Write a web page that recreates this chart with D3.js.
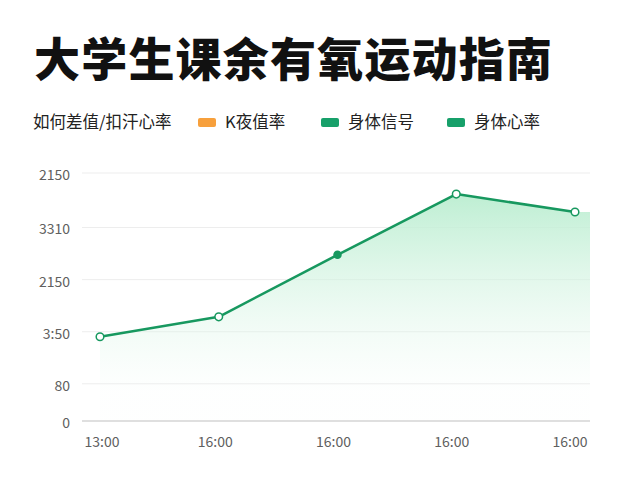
<!DOCTYPE html>
<html>
<head>
<meta charset="utf-8">
<script src="https://cdn.jsdelivr.net/npm/d3@7/dist/d3.min.js"></script>
<style>
  body { margin: 0; background: #fff; }
  text { font-family: "Noto Sans CJK SC", "Noto Sans", sans-serif; }
</style>
</head>
<body>
<svg id="chart" width="640" height="480"></svg>
<script>
// chart text
var title = "大学生课余有氧运动指南";
var legendTitle = "如何差值/扣汗心率";
var legendNames = ["K夜值率", "身体信号", "身体心率"];
var legendColors = ["#f7a03c", "#17a06a", "#17a06a"];

// x categories (as drawn)
var xLabels = ["13:00", "16:00", "16:00", "16:00", "16:00"];

// y ticks: positions on a 0-100 scale, labels as printed
var yTickValues = [0, 15, 36, 57, 78, 100];
var yTickLabels = ["0", "80", "3:50", "2150", "3310", "2150"];

// heart rate series, same 0-100 scale
var heartRate = [34, 42, 67, 91.5, 84.3];
var filledPoint = 2;   // the one marker that is drawn solid

var svg = d3.select("#chart");
var lineColor = "#17985f";

var x = d3.scaleLinear().domain([0, xLabels.length - 1]).range([100, 575]);
var y = d3.scaleLinear().domain([0, 100]).range([421, 173]);
var plotLeft = 82, plotRight = 590;

// title
svg.append("text")
  .attr("x", 34).attr("y", 76)
  .attr("font-size", 46).attr("font-weight", 900)
  .attr("letter-spacing", 1.2)
  .attr("fill", "#111")
  .text(title);

// legend
var lg = svg.append("g").attr("font-size", 16.5).attr("fill", "#222");
lg.append("text").attr("x", 33).attr("y", 128).text(legendTitle);
var legendX = [198, 321, 447];
legendNames.forEach(function(name, i) {
  lg.append("rect")
    .attr("x", legendX[i]).attr("y", 118)
    .attr("width", 18).attr("height", 9).attr("rx", 2)
    .attr("fill", legendColors[i]);
  lg.append("text")
    .attr("x", legendX[i] + 27).attr("y", 128)
    .text(name);
});

// gradient for the area
var defs = svg.append("defs");
var grad = defs.append("linearGradient")
  .attr("id", "areaFill")
  .attr("gradientUnits", "userSpaceOnUse")
  .attr("x1", 0).attr("y1", y(92)).attr("x2", 0).attr("y2", y(12));
grad.append("stop").attr("offset", 0).attr("stop-color", "#bdeed2").attr("stop-opacity", 1);
grad.append("stop").attr("offset", 1).attr("stop-color", "#e6f8ee").attr("stop-opacity", 0.05);

// grid lines
svg.append("g").selectAll("line")
  .data(yTickValues.slice(1))
  .enter().append("line")
  .attr("x1", plotLeft).attr("x2", plotRight)
  .attr("y1", function(d) { return y(d); })
  .attr("y2", function(d) { return y(d); })
  .attr("stroke", "#ededed").attr("stroke-width", 1);

// y labels
svg.append("g").selectAll("text")
  .data(yTickValues)
  .enter().append("text")
  .attr("x", 70)
  .attr("y", function(d) { return y(d) + 2; })
  .attr("dy", "0.35em")
  .attr("text-anchor", "end")
  .attr("font-size", 14).attr("fill", "#606060")
  .text(function(d, i) { return yTickLabels[i]; });

// area, carried flat to the right edge of the plot
var areaData = heartRate.map(function(v, i) { return [i, v]; });
areaData.push([x.invert(plotRight), heartRate[heartRate.length - 1]]);
var area = d3.area()
  .x(function(d) { return x(d[0]); })
  .y0(y(0))
  .y1(function(d) { return y(d[1]); });
svg.append("path").datum(areaData)
  .attr("d", area)
  .attr("fill", "url(#areaFill)");

// x axis line
svg.append("line")
  .attr("x1", plotLeft).attr("x2", plotRight)
  .attr("y1", y(0)).attr("y2", y(0))
  .attr("stroke", "#d4d4d4").attr("stroke-width", 1.5);

// x labels
svg.append("g").selectAll("text")
  .data(xLabels)
  .enter().append("text")
  .attr("x", function(d, i) { return x(i) + (i === 0 ? 2 : -3 + i * -0.5); })
  .attr("y", 447)
  .attr("text-anchor", "middle")
  .attr("font-size", 14).attr("fill", "#606060")
  .text(function(d) { return d; });

// line
var line = d3.line()
  .x(function(d, i) { return x(i); })
  .y(function(d) { return y(d); });
svg.append("path").datum(heartRate)
  .attr("d", line)
  .attr("fill", "none")
  .attr("stroke", lineColor).attr("stroke-width", 2.5)
  .attr("stroke-linejoin", "round");

// markers
svg.append("g").selectAll("circle")
  .data(heartRate)
  .enter().append("circle")
  .attr("cx", function(d, i) { return x(i); })
  .attr("cy", function(d) { return y(d); })
  .attr("r", function(d, i) { return i === filledPoint ? 3.5 : 3.8; })
  .attr("fill", function(d, i) { return i === filledPoint ? lineColor : "#fff"; })
  .attr("stroke", lineColor).attr("stroke-width", 1.5);
</script>
</body>
</html>
